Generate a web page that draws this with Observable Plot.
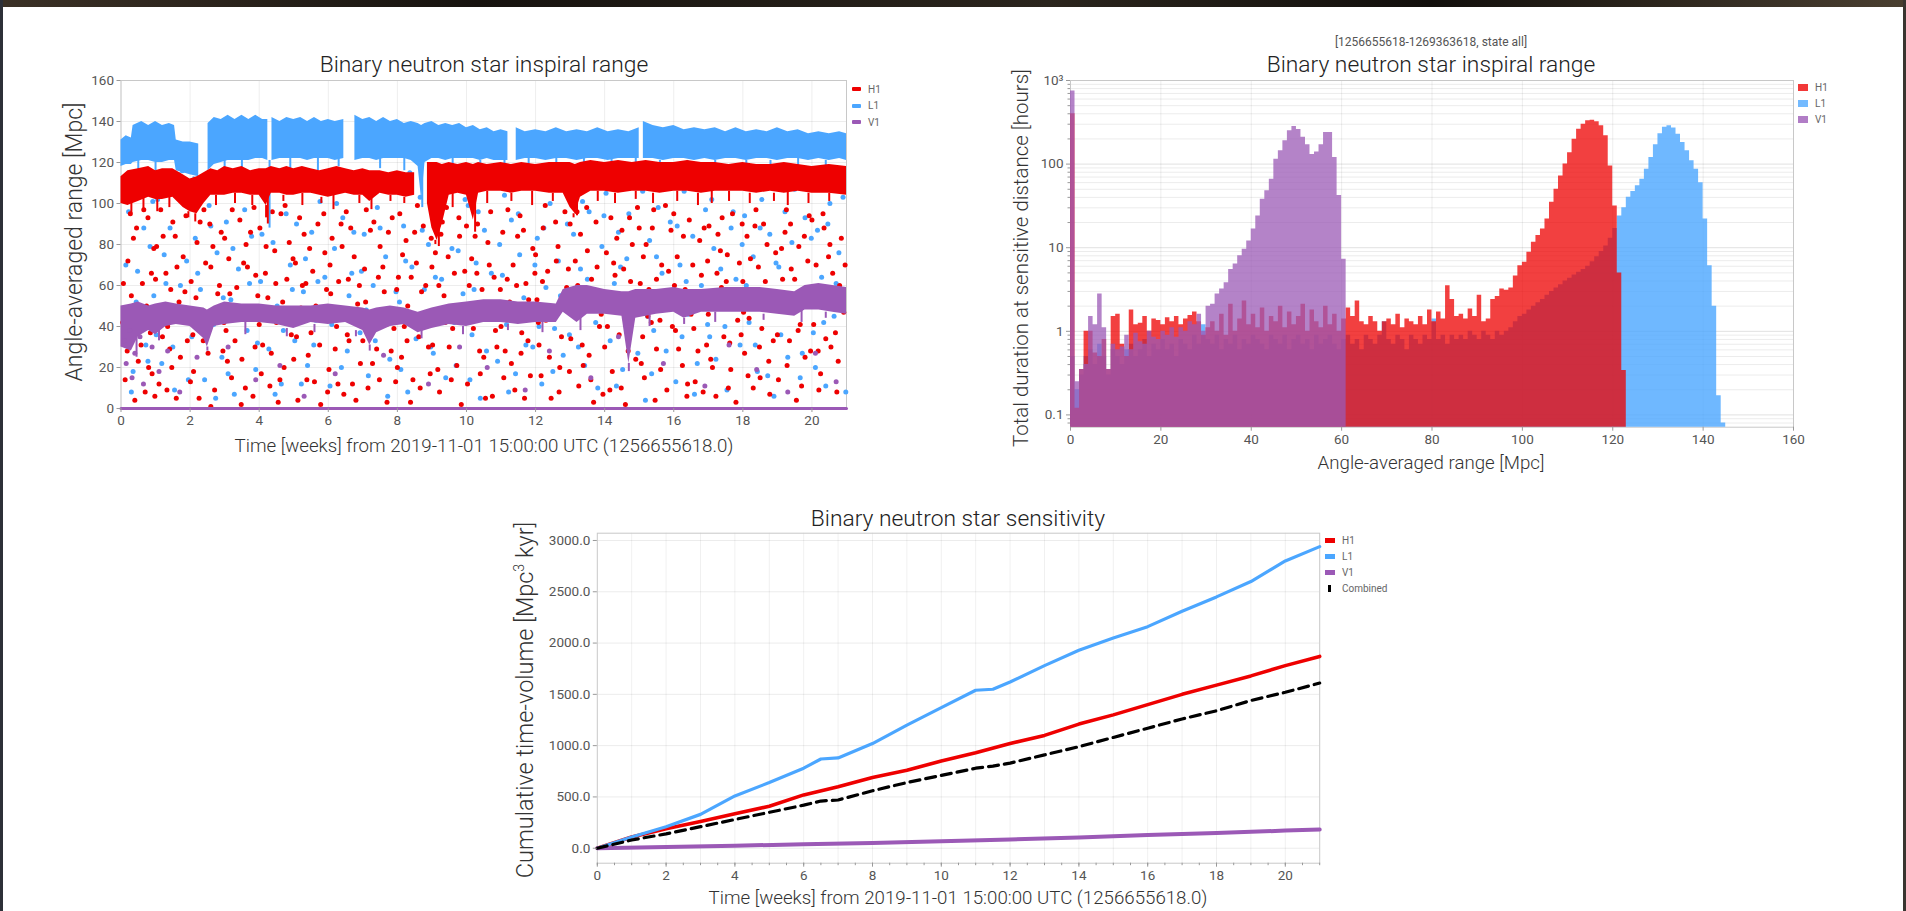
<!DOCTYPE html>
<html>
<head>
<meta charset="utf-8">
<script src="https://cdn.jsdelivr.net/npm/d3@7"></script>
<script src="https://cdn.jsdelivr.net/npm/@observablehq/plot@0.6"></script>
<style>
  html, body { margin: 0; padding: 0; background: #fff; }
  body { width: 1906px; height: 911px; position: relative; overflow: hidden;
         font-family: Roboto, "Open Sans", sans-serif; color: #333; }
  .abs { position: absolute; }
  .title { font-size: 22.8px; font-weight: 300; color: #222; white-space: nowrap; transform: translate(-50%, -50%); }
  .sub { font-size: 12px; color: #555; white-space: nowrap; transform: translate(-50%, -50%); }
  .xlabel { font-size: 18.7px; font-weight: 300; color: #333; white-space: nowrap; transform: translate(-50%, -50%); }
  .ylabel { font-weight: 300; color: #333; white-space: nowrap; transform: translate(-50%, -50%) rotate(-90deg); }
  .ylabel sup { font-size: 0.6em; }
  .leg { font-size: 10px; color: #666; white-space: nowrap; display: flex; align-items: center; height: 14px; transform: translateY(-50%); }
  .leg i { display: inline-block; margin-right: 7px; }
  .plotbox svg { display: block; overflow: visible; }
</style>
</head>
<body>
<div class="abs" style="left:0;top:0;width:1906px;height:7px;background:linear-gradient(90deg,#3b3126,#17130f 25%,#2b251d 55%,#120f0c 75%,#4a3f30)"></div>
<div class="abs" style="left:0;top:0;width:3px;height:911px;background:#2d3038"></div>
<div class="abs" style="left:1903px;top:0;width:3px;height:911px;background:#3a3530"></div>

<div id="c1" class="abs plotbox" style="left:40px;top:40px;width:830px;"></div>
<div id="c2" class="abs plotbox" style="left:1000px;top:40px;width:820px;"></div>
<div id="c3" class="abs plotbox" style="left:540px;top:500px;width:800px;"></div>

<div class="abs title" style="left:484px;top:64px;">Binary neutron star inspiral range</div>
<div class="abs xlabel" style="left:484px;top:446px;">Time [weeks] from 2019-11-01 15:00:00 UTC (1256655618.0)</div>
<div class="abs ylabel" style="left:74px;top:242px;font-size:23px;">Angle-averaged range [Mpc]</div>

<div class="abs sub" style="left:1431px;top:42px;">[1256655618-1269363618, state all]</div>
<div class="abs title" style="left:1431px;top:64px;">Binary neutron star inspiral range</div>
<div class="abs xlabel" style="left:1431px;top:463px;">Angle-averaged range [Mpc]</div>
<div class="abs ylabel" style="left:1021px;top:258px;font-size:20.5px;">Total duration at sensitive distance [hours]</div>

<div class="abs title" style="left:958px;top:518px;">Binary neutron star sensitivity</div>
<div class="abs xlabel" style="left:958px;top:898px;">Time [weeks] from 2019-11-01 15:00:00 UTC (1256655618.0)</div>
<div class="abs ylabel" style="left:525px;top:700px;font-size:23.5px;">Cumulative time-volume [Mpc<sup>3</sup> kyr]</div>

<div id="leg1" class="abs" style="left:852px;top:89px;"></div>
<div id="leg2" class="abs" style="left:1798px;top:87px;"></div>
<div id="leg3" class="abs" style="left:1325px;top:540px;"></div>

<script>
// Detectors and their colours
const detectors = ["H1", "L1", "V1"];
const H1C = "#ee0000", L1C = "#4ba6ff", V1C = "#9b59b6";
const FONT = "Roboto, 'Open Sans', sans-serif";

// ---------- Inspiral range over time ----------
const weekTicks = [0, 2, 4, 6, 8, 10, 12, 14, 16, 18, 20];
const rangeTicks = [0, 20, 40, 60, 80, 100, 120, 140, 160];

// Locked-state range envelopes: [week, low, high] (NaN = no data)
const l1Band = [
  [0,118,131],[0.15,119,133],[0.3,119,132],[0.35,120,138],[0.6,121,140],[0.8,121,138],[1.0,120,140],[1.2,120,138],
  [1.4,121,139],[1.55,121,138],[1.6,116,131],[1.8,115,130],[2.0,114,130],[2.25,113,129],[2.27,NaN,NaN],[2.5,NaN,NaN],
  [2.52,116,139],[2.7,119,142],[2.9,120,141],[3.1,121,143],[3.3,121,141],[3.5,121,143],[3.7,121,141],[3.9,122,143],
  [4.1,122,141],[4.25,121,141],[4.27,NaN,NaN],[4.35,NaN,NaN],[4.37,121,142],[4.6,122,140],[4.8,122,142],[5.0,122,141],
  [5.2,122,142],[5.4,121,140],[5.6,122,142],[5.8,122,140],[6.0,122,141],[6.2,121,140],[6.45,122,141],[6.47,NaN,NaN],
  [6.75,NaN,NaN],[6.77,121,143],[7.0,122,141],[7.2,122,142],[7.4,121,140],[7.6,122,142],[7.8,122,140],[8.0,122,141],
  [8.2,122,139],[8.4,121,140],[8.6,118,139],[8.7,102,138],[8.8,120,139],[9.0,122,140],[9.2,122,138],[9.4,121,139],
  [9.6,122,138],[9.8,122,139],[10.0,122,137],[10.2,122,138],[10.4,121,136],[10.6,122,137],[10.8,121,135],[11.0,121,136],
  [11.2,121,135],[11.22,NaN,NaN],[11.42,NaN,NaN],[11.44,121,137],[11.7,122,135],[12.0,122,136],[12.3,121,135],
  [12.6,122,137],[12.9,122,135],[13.2,121,136],[13.5,122,135],[13.8,122,137],[14.1,121,135],[14.4,122,136],
  [14.7,122,135],[15.0,122,137],[15.02,NaN,NaN],[15.1,NaN,NaN],[15.12,122,140],[15.4,122,138],[15.7,121,137],
  [16.0,122,138],[16.3,122,136],[16.6,121,137],[16.9,122,136],[17.2,121,137],[17.5,122,135],[17.8,122,137],
  [18.1,121,135],[18.4,122,136],[18.7,122,135],[19.0,121,137],[19.3,122,135],[19.6,122,136],[19.9,121,134],
  [20.2,122,135],[20.5,121,134],[20.8,122,135],[21,121,134]
];
const h1Band = [
  [0,100,113],[0.2,99,116],[0.5,101,117],[0.8,103,118],[1.0,102,116],[1.2,102,117],[1.5,103,117],[1.8,98,114],
  [2.0,96,112],[2.2,95,113],[2.4,100,115],[2.6,104,117],[2.8,104,116],[3.0,104,118],[3.25,105,117],[3.5,105,118],
  [3.75,104,116],[4.0,104,117],[4.2,99,117],[4.35,105,118],[4.6,105,117],[4.8,104,118],[5.0,104,117],[5.25,105,118],
  [5.5,105,117],[5.75,104,116],[6.0,103,117],[6.25,104,118],[6.5,105,117],[6.75,104,116],[7.0,104,117],[7.2,101,116],
  [7.5,105,116],[7.75,104,115],[8.0,104,116],[8.25,103,115],[8.5,104,115],[8.6,NaN,NaN],[8.85,NaN,NaN],[8.87,100,120],
  [9.0,88,120],[9.15,82,120],[9.3,90,119],[9.5,104,120],[9.75,105,119],[10.0,104,120],[10.2,92,119],[10.35,105,120],
  [10.6,106,119],[11.0,106,120],[11.3,105,119],[11.6,106,120],[12.0,106,119],[12.4,105,120],[12.8,105,120],
  [13.0,98,120],[13.15,95,119],[13.3,103,120],[13.6,106,121],[14,106,120],[14.4,105,121],[14.8,106,120],[15.2,106,121],
  [15.6,105,120],[16,106,120],[16.4,106,121],[16.8,105,120],[17.2,106,120],[17.6,106,119],[18,106,120],[18.4,105,119],
  [18.8,106,119],[19.2,105,120],[19.6,106,119],[20,105,118],[20.5,105,119],[21,104,118]
];
const v1Band = [
  [0,30,50],[0.3,28,51],[0.5,35,52],[0.8,38,50],[1.0,36,51],[1.3,40,52],[1.6,41,51],[2.0,40,50],[2.4,34,49],
  [2.5,30,48],[2.7,40,50],[3.0,41,52],[3.5,42,51],[4.0,42,51],[4.5,41,50],[5.0,39,50],[5.5,42,50],[6.0,41,51],
  [6.5,42,50],[7.0,38,49],[7.2,31,48],[7.4,37,49],[7.8,40,50],[8.2,41,49],[8.6,37,47],[9.0,39,49],[9.5,41,51],
  [10.0,40,52],[10.5,42,53],[11.0,42,53],[11.5,41,52],[12.0,42,52],[12.6,42,51],[12.8,47,58],[13.2,42,60],
  [13.5,46,60],[14.0,46,58],[14.5,45,57],[14.7,22,57],[14.9,44,58],[15.5,46,58],[16.0,47,59],[16.3,44,58],
  [16.8,47,58],[17.5,47,59],[18.0,47,59],[18.5,47,59],[19.0,46,58],[19.5,45,57],[19.8,48,60],[20.2,48,61],
  [20.6,47,60],[21,46,59]
];
// Short drops below the locked envelope: [week, lowest Mpc]
const h1Drops = [
  [0.3,95],[0.65,97],[1.05,96],[1.4,98],[1.95,93],[2.15,91],[2.75,99],[3.3,100],[3.8,99],[4.2,93],[4.25,90],[4.7,101],
  [5.25,99],[5.8,100],[6.15,97],[6.9,100],[7.25,97],[7.8,101],[8.2,100],[9.1,80],[9.2,79],[9.6,98],[10.25,86],[10.6,100],
  [11.3,101],[11.9,99],[12.5,101],[13.1,93],[13.2,94],[13.8,101],[14.3,100],[14.9,102],[15.4,100],[16.1,101],[16.7,99],
  [17.1,100],[17.6,101],[18.2,100],[18.9,101],[19.3,99],[19.9,100],[20.5,101]
];
const l1Drops = [
  [0.5,116],[1.0,115],[1.7,112],[2.1,110],[3.0,116],[3.5,117],[4.3,88],[4.9,117],[5.7,116],[6.3,118],[7.5,117],[8.2,116],
  [8.72,98],[9.6,117],[10.4,116],[11.1,117],[11.8,118],[12.6,117],[13.4,116],[14.2,118],[14.9,116],[15.6,117],[16.4,118],
  [17.2,116],[18.1,117],[18.8,118],[19.6,116],[20.4,117]
];
const v1Drops = [
  [0.45,25],[1.1,33],[2.5,28],[3.6,36],[4.8,35],[5.6,37],[6.8,35],[7.2,28],[8.7,34],[9.9,36],[11.2,38],[12.2,37],
  [13.3,38],[14.7,18],[15.3,40],[16.3,41],[17.2,42],[18.6,43],[19.7,42],[20.4,44]
];

// Unlocked / transitional samples: [week, Mpc]
const h1Points = [
  [0.12,14],[0.2,72],[0.3,55],[0.45,88],[0.5,23],[0.62,61],[0.7,8],[0.78,93],[0.85,37],[0.95,78],
  [1.05,47],[1.1,12],[1.22,84],[1.3,66],[1.41,29],[1.5,91],[1.6,5],[1.68,52],[1.8,74],[1.92,33],
  [2.03,62],[2.1,18],[2.2,81],[2.33,44],[2.4,97],[2.52,27],[2.6,69],[2.71,9],[2.8,56],[2.9,86],
  [3.04,38],[3.12,73],[3.2,15],[3.35,59],[3.44,92],[3.5,24],[3.62,80],[3.7,47],[3.82,6],[3.9,65],
  [4.02,88],[4.1,31],[4.25,54],[4.31,11],[4.45,77],[4.5,42],[4.63,95],[4.72,20],[4.8,63],[4.93,36],
  [5.05,71],[5.12,4],[5.21,49],[5.3,85],[5.42,26],[5.55,67],[5.6,13],[5.7,90],[5.83,45],[5.95,58],
  [6.02,19],[6.11,83],[6.24,40],[6.3,62],[6.45,7],[6.52,96],[6.6,33],[6.75,74],[6.85,51],[6.93,22],
  [7.05,68],[7.15,10],[7.22,87],[7.35,46],[7.4,29],[7.5,79],[7.62,57],[7.7,3],[7.85,93],[7.9,39],
  [8.03,64],[8.12,25],[8.25,82],[8.3,50],[8.45,14],[8.55,71],[8.62,35],[8.75,89],[8.82,60],[8.95,17],
  [9.05,43],[9.1,76],[9.22,8],[9.35,55],[9.42,98],[9.5,30],[9.65,66],[9.72,21],[9.8,84],[9.92,48],
  [10.03,12],[10.15,73],[10.2,39],[10.32,90],[10.45,58],[10.5,25],[10.62,81],[10.75,6],[10.8,64],[10.95,44],
  [11.05,86],[11.12,28],[11.25,52],[11.35,70],[11.4,9],[11.55,94],[11.6,37],[11.72,61],[11.85,16],[11.92,78],
  [12.04,53],[12.1,31],[12.22,88],[12.35,67],[12.45,5],[12.52,45],[12.65,79],[12.7,20],[12.85,96],[12.9,59],
  [13.02,34],[13.15,72],[13.25,11],[13.3,85],[13.45,49],[13.55,26],[13.62,63],[13.75,91],[13.85,40],[13.95,7],
  [14.05,76],[14.12,55],[14.22,18],[14.35,83],[14.42,36],[14.55,68],[14.6,2],[14.72,93],[14.85,47],[14.9,24],
  [15.03,61],[15.15,15],[15.2,80],[15.35,42],[15.42,97],[15.5,29],[15.65,70],[15.72,53],[15.8,9],[15.92,87],
  [16.05,38],[16.1,74],[16.25,21],[16.33,58],[16.45,92],[16.5,46],[16.62,13],[16.75,82],[16.8,65],[16.95,31],
  [17.02,89],[17.15,50],[17.22,6],[17.35,77],[17.45,35],[17.52,62],[17.65,19],[17.7,95],[17.85,43],[17.9,71],
  [18.05,27],[18.12,84],[18.25,57],[18.3,10],[18.45,69],[18.55,39],[18.6,90],[18.75,23],[18.82,52],[18.95,76],
  [19.03,14],[19.15,63],[19.22,86],[19.35,33],[19.42,48],[19.55,4],[19.62,79],[19.75,58],[19.8,25],[19.92,94],
  [20.05,41],[20.12,70],[20.25,17],[20.35,88],[20.42,55],[20.55,30],[20.6,66],[20.72,8],[20.85,83],[20.92,47],
  [0.05,42],[0.27,95],[0.4,4],[0.58,31],[0.74,50],[0.9,17],[1.0,63],[1.15,97],[1.35,40],[1.47,20],[1.62,69],[1.85,57],
  [2.08,36],[2.26,5],[2.45,71],[2.57,90],[2.75,47],[2.95,28],[3.0,83],[3.15,56],[3.3,33],[3.48,2],[3.66,69],[3.85,98],
  [4.06,17],[4.18,66],[4.38,96],[4.55,3],[4.68,52],[4.87,81],[5.0,24],[5.17,93],[5.35,61],[5.5,37],[5.78,2],[5.9,76],
  [6.07,56],[6.2,29],[6.37,90],[6.58,63],[6.7,12],[6.97,44],[7.0,33],[7.1,97],[7.28,22],[7.45,64],[7.68,41],[7.95,13],
  [8.07,95],[8.2,40],[8.38,3],[8.5,86],[8.7,57],[8.9,30],[9.0,69],[9.17,19],[9.3,91],[9.47,74],[9.6,39],[9.85,2],
  [10.08,60],[10.25,84],[10.4,17],[10.58,50],[10.7,96],[10.88,30],[11.0,40],[11.18,63],[11.3,22],[11.48,84],[11.68,5],[11.8,53],
  [12.0,75],[12.16,16],[12.3,43],[12.58,91],[12.75,35],[12.95,68],[13.08,57],[13.2,96],[13.38,21],[13.5,77],[13.68,3],[13.9,46],
  [14.0,30],[14.18,93],[14.3,65],[14.48,10],[14.65,51],[14.8,80],[15.0,88],[15.1,35],[15.28,58],[15.46,4],[15.6,43],[15.85,67],
  [16.0,95],[16.18,51],[16.38,6],[16.55,70],[16.7,28],[16.88,88],[17.07,24],[17.25,66],[17.4,93],[17.58,10],[17.75,55],[17.95,36],
  [18.0,62],[18.18,44],[18.38,97],[18.5,15],[18.7,80],[18.88,33],[19.08,51],[19.26,97],[19.4,68],[19.6,38],[19.7,11],[19.88,72],
  [20.0,92],[20.18,28],[20.3,53],[20.48,74],[20.68,37],[20.8,60],
  [0.07,61],[0.18,28],[0.36,83],[0.52,45],[0.66,97],[0.8,20],[0.88,66],[0.98,6],
  [1.03,79],[1.2,35],[1.33,9],[1.44,58],[1.57,84],[1.72,25],[1.88,94],[1.97,46],
  [2.01,13],[2.17,54],[2.29,91],[2.38,33],[2.6,1],[2.66,79],[2.85,60],[2.98,42],
  [3.08,23],[3.22,97],[3.38,49],[3.55,71],[3.6,10],[3.75,86],[3.88,30],[3.96,55],
  [4.0,41],[4.2,79],[4.35,27],[4.48,61],[4.6,14],[4.75,99],[4.84,47],[4.98,73],
  [5.08,35],[5.25,60],[5.38,14],[5.46,78],[5.64,50],[5.75,31],[5.87,95],[5.98,8],
  [6.05,70],[6.15,47],[6.28,12],[6.4,79],[6.55,36],[6.65,88],[6.8,4],[6.9,60],
  [7.08,52],[7.2,40],[7.32,91],[7.48,14],[7.58,69],[7.74,86],[7.82,28],[7.98,58],
  [8.0,20],[8.15,75],[8.28,33],[8.4,64],[8.58,99],[8.66,10],[8.8,46],[8.98,83],
  [9.02,31],[9.2,60],[9.26,85],[9.38,42],[9.56,14],[9.68,50],[9.78,93],[9.95,67],
  [10.0,89],[10.1,48],[10.3,66],[10.38,28],[10.55,5],[10.66,70],[10.84,38],[10.98,58],
  [11.08,15],[11.2,97],[11.28,44],[11.45,60],[11.58,27],[11.65,87],[11.78,33],[11.98,66],
  [12.08,42],[12.2,62],[12.28,99],[12.4,25],[12.6,72],[12.68,8],[12.8,50],[12.98,18],
  [13.0,90],[13.1,47],[13.22,60],[13.35,31],[13.48,98],[13.6,14],[13.78,69],[13.88,56],
  [14.08,40],[14.15,9],[14.26,71],[14.38,49],[14.5,87],[14.68,28],[14.75,62],[14.95,98],
  [15.06,22],[15.12,74],[15.25,45],[15.38,88],[15.5,63],[15.62,19],[15.76,99],[15.96,40],
  [16.02,60],[16.14,29],[16.28,84],[16.4,12],[16.58,39],[16.66,56],[16.85,8],[16.98,72],
  [17.0,46],[17.12,20],[17.28,85],[17.38,59],[17.55,75],[17.62,32],[17.8,3],[17.98,90],
  [18.02,47],[18.15,16],[18.22,73],[18.35,89],[18.48,30],[18.65,62],[18.78,7],[18.92,55],
  [19.0,36],[19.12,78],[19.28,21],[19.38,90],[19.5,63],[19.66,41],[19.78,84],[19.96,28],
  [20.08,58],[20.2,9],[20.32,95],[20.4,34],[20.52,80],[20.62,50],[20.76,23],[20.96,70]
];
const l1Points = [
  [0.08,44],[0.22,96],[0.35,18],[0.48,67],[0.6,110],[0.72,31],[0.84,79],[0.95,55],
  [1.06,102],[1.18,22],[1.3,61],[1.42,88],[1.55,9],[1.66,47],[1.78,116],[1.9,72],
  [2.05,35],[2.15,83],[2.3,58],[2.42,14],[2.55,99],[2.68,41],[2.78,76],[2.92,25],
  [3.05,91],[3.18,53],[3.28,7],[3.4,68],[3.52,112],[3.65,38],[3.78,84],[3.9,19],
  [4.04,62],[4.15,104],[4.28,29],[4.4,81],[4.52,50],[4.64,12],[4.78,95],[4.9,70],
  [5.03,33],[5.15,115],[5.28,57],[5.4,21],[5.52,86],[5.64,43],[5.76,101],[5.9,64],
  [6.05,11],[6.18,78],[6.3,49],[6.42,93],[6.55,28],[6.68,66],[6.8,107],[6.92,37],
  [7.04,85],[7.16,16],[7.3,60],[7.42,98],[7.55,45],[7.66,74],[7.78,24],[7.92,113],
  [8.06,52],[8.18,89],[8.3,8],[8.42,69],[8.54,34],[8.66,103],[8.78,58],[8.9,80],
  [9.04,27],[9.16,94],[9.28,63],[9.4,15],[9.52,108],[9.65,42],[9.76,77],[9.9,56],
  [10.05,99],[10.16,36],[10.28,71],[10.4,5],[10.52,87],[10.65,48],[10.78,117],[10.9,23],
  [11.04,65],[11.16,41],[11.3,92],[11.42,17],[11.54,75],[11.66,54],[11.8,109],[11.92,30],
  [12.05,83],[12.18,12],[12.3,59],[12.42,100],[12.55,39],[12.66,72],[12.8,26],[12.92,90],
  [13.06,47],[13.18,114],[13.3,68],[13.42,21],[13.55,96],[13.68,53],[13.8,10],[13.92,79],
  [14.04,105],[14.16,33],[14.28,61],[14.4,86],[14.52,19],[14.64,73],[14.78,44],[14.9,111],
  [15.05,57],[15.18,4],[15.3,82],[15.42,38],[15.55,98],[15.66,66],[15.78,28],[15.9,91],
  [16.06,13],[16.18,70],[16.3,106],[16.42,46],[16.55,84],[16.68,22],[16.8,60],[16.92,97],
  [17.04,35],[17.16,78],[17.3,116],[17.42,52],[17.54,9],[17.66,88],[17.8,63],[17.92,31],
  [18.05,94],[18.18,42],[18.3,74],[18.42,18],[18.55,102],[18.66,57],[18.78,85],[18.9,6],
  [19.04,69],[19.16,110],[19.3,25],[19.42,81],[19.54,49],[19.66,15],[19.8,93],[19.92,58],
  [20.04,37],[20.16,87],[20.28,64],[20.4,11],[20.52,100],[20.64,45],[20.78,76],[20.9,103],
  [0.14,70],[0.3,8],[0.44,52],[0.66,88],[0.78,23],[0.92,101],[1.02,36],[1.25,75],[1.38,113],[1.5,30],[1.72,60],[1.95,14],
  [2.1,105],[2.22,66],[2.36,40],[2.6,89],[2.74,5],[2.96,54],[3.1,17],[3.24,78],[3.46,44],[3.58,97],[3.72,61],[3.95,32],
  [4.08,85],[4.22,45],[4.46,7],[4.58,116],[4.7,38],[4.96,58],[5.08,90],[5.22,12],[5.34,73],[5.58,31],[5.7,62],[5.95,110],
  [6.1,41],[6.24,100],[6.38,20],[6.6,55],[6.74,86],[6.96,67],[7.1,48],[7.22,110],[7.36,33],[7.5,88],[7.72,6],[7.96,57],
  [8.1,19],[8.24,72],[8.36,115],[8.48,43],[8.72,87],[8.96,30],[9.1,64],[9.22,42],[9.34,99],[9.58,78],[9.7,21],[9.96,102],
  [10.1,14],[10.22,58],[10.34,96],[10.58,28],[10.72,66],[10.96,80],[11.1,104],[11.22,8],[11.36,47],[11.5,95],[11.72,31],[11.98,70],
  [12.1,40],[12.24,88],[12.36,113],[12.5,18],[12.72,55],[12.98,36],[13.1,85],[13.24,30],[13.36,101],[13.5,63],[13.74,42],[13.98,94],
  [14.1,52],[14.22,118],[14.34,11],[14.46,69],[14.7,95],[14.96,27],[15.1,106],[15.24,45],[15.36,17],[15.5,74],[15.72,113],[15.96,50],
  [16.1,89],[16.24,35],[16.36,62],[16.6,7],[16.74,112],[16.98,41],[17.1,102],[17.22,24],[17.36,68],[17.48,40],[17.72,96],[17.98,80],
  [18.1,60],[18.24,115],[18.36,31],[18.5,88],[18.72,16],[18.96,71],[19.1,36],[19.22,96],[19.36,55],[19.5,107],[19.72,27],[19.98,83],
  [20.1,20],[20.22,111],[20.34,42],[20.46,90],[20.7,61],[20.98,8]
];
const v1Points = [
  [0.1,33],[0.15,22],[0.25,38],[0.32,15],[0.4,27],[0.55,35],[0.65,12],[0.9,30],[1.1,18],[1.35,28],[1.7,8],
  [2.2,25],[3.1,30],[3.9,14],[4.6,21],[5.3,6],[6.2,17],[7.6,26],[8.9,12],[9.8,30],[10.6,20],[11.7,9],
  [12.4,28],[13.6,15],[14.4,35],[15.7,22],[16.9,11],[17.6,31],[18.4,19],[19.3,8],[20.1,27],[20.7,13]
];
// V1 reports zero range while out of lock
const v1Offline = [[0,0],[21,0]];

// ---------- Range histogram (1 Mpc bins, hours per bin) ----------
const mpcTicks = [0, 20, 40, 60, 80, 100, 120, 140, 160];
const hourTicks = [0.1, 1, 10, 100, 1000];
const hourTickLabels = ["0.1", "1", "10", "100", "10³"];
const hourMinorTicks = [0.08,0.09,0.2,0.3,0.4,0.5,0.6,0.7,0.8,0.9,2,3,4,5,6,7,8,9,20,30,40,50,60,70,80,90,200,300,400,500,600,700,800,900];
const histFloor = 0.01;

const h1Hours = [
  400,0.12,0.35,1.0,1.0,0.55,0.5,0.8,0.35,1.5,1.6,0.7,0.5,1.8,1.2,1.25,1.5,1.0,1.4,1.35,
  1.2,1.45,1.3,1.5,1.2,1.4,1.55,1.7,1.3,0.9,1.1,1.3,1.0,1.6,0.9,2.1,1.0,1.4,2.3,1.2,
  1.6,1.1,1.9,1.0,1.5,1.3,2.0,1.1,1.7,1.2,1.5,2.1,1.0,1.8,1.3,1.1,2.0,1.2,1.6,1.0,
  1.4,1.9,1.5,2.3,1.3,1.2,1.5,1.3,1.0,1.3,1.4,1.2,1.6,1.1,1.4,1.3,1.2,1.5,1.2,1.8,
  1.3,1.7,1.4,3.5,2.4,1.5,1.6,1.4,1.85,1.5,2.7,1.3,1.4,2.4,2.6,3.2,3.1,3.3,4.6,6.1,
  6.7,8.8,11.6,14,16.7,22,35,50,72,100,137,198,262,300,330,335,320,287,218,95,
  31.6,5.0,0.34
];
const l1Hours = [
  0.5,0.2,0.3,0.5,0.6,0.4,0.7,0.5,0.3,0.6,0.5,0.4,0.6,0.7,0.5,0.6,0.8,0.5,0.7,0.6,
  0.8,0.6,0.7,0.5,0.8,0.7,0.6,0.9,0.7,1.2,0.8,0.7,0.9,0.6,0.8,0.7,0.9,0.6,0.8,0.7,
  0.9,0.8,0.7,0.6,0.9,0.8,0.7,0.9,0.6,0.8,0.9,0.7,0.8,0.6,0.9,0.7,0.8,0.9,0.7,0.6,
  0.8,0.9,0.7,0.8,0.6,0.9,0.8,0.7,0.9,1.3,0.8,0.7,0.9,0.8,0.6,0.9,0.8,0.7,0.9,0.8,
  1.4,0.8,0.9,0.7,0.9,0.8,0.9,0.8,1.0,0.9,0.8,1.0,0.9,0.8,1.0,0.9,1.0,1.1,1.3,1.5,
  1.6,1.8,2.0,2.2,2.4,2.7,3.0,3.3,3.6,4.0,4.3,4.7,5.1,5.5,6.0,6.8,7.8,9,10.5,13,
  17,24,30,40,47,55,66,87,120,170,230,275,287,270,228,181,144,110,87,60,
  22,6.1,2.0,0.17,0.08
];
const v1Hours = [
  750,0.25,0.35,0.4,1.5,1.2,2.8,1.1,0.35,0.7,0.6,0.65,0.9,0.6,0.95,0.75,0.7,1.0,0.85,0.8,
  1.0,0.9,1.1,0.85,1.1,1.0,1.3,1.2,1.6,1.0,2.0,2.1,2.8,3.2,3.8,5.5,6.4,8.0,9.6,12,
  16.7,24,38,48,66,114,144,190,250,281,260,210,170,130,140,170,238,238,120,42,7.3
];

// ---------- Cumulative time-volume: [week, Mpc^3 kyr] ----------
const volumeTicks = [0, 500, 1000, 1500, 2000, 2500, 3000];
const h1Volume = [[0,0],[1,110],[2,190],[3,260],[4,335],[5,410],[6,520],[7,600],[8,690],[9,760],[10,850],
  [11,930],[12,1020],[13,1100],[14,1210],[15,1300],[16,1400],[17,1500],[18,1590],[19,1680],[20,1780],[21,1870]];
const l1Volume = [[0,0],[1,110],[2,210],[3,330],[4,510],[5,640],[6,780],[6.5,870],[7,880],[8,1020],[9,1200],
  [10,1370],[11,1540],[11.5,1550],[12,1620],[13,1780],[14,1930],[15,2050],[16,2160],[17,2310],[18,2450],
  [19,2600],[20,2800],[21,2940]];
const v1Volume = [[0,0],[2,12],[4,25],[6,38],[8,52],[10,68],[12,85],[14,105],[16,128],[18,148],[20,172],[21,183]];
const combinedVolume = [[0,0],[1,80],[2,140],[3,210],[4,280],[5,350],[6,420],[6.5,460],[7,470],[8,560],[9,640],
  [10,710],[11,780],[11.5,800],[12,830],[13,910],[14,990],[15,1080],[16,1170],[17,1260],[18,1340],[19,1440],
  [20,1520],[21,1610]];

// ---------- drawing ----------
const baseStyle = {fontFamily: FONT, fontSize: "13.5px", color: "#555", background: "transparent", overflow: "visible"};
const X = d => d[0], Y = d => d[1];
const gridStyle = {stroke: "#000", strokeOpacity: 0.07};

// Inspiral range time series
function band(rows, fill, drops) {
  return [
    Plot.areaY(rows, {x: d => d[0], y1: d => d[1], y2: d => d[2], fill}),
    Plot.ruleX(drops, {x: d => d[0], y1: d => d[1],
      y2: d => rows.find(r => r[0] >= d[0] && !isNaN(r[1]))[1], stroke: fill, strokeWidth: 2})
  ];
}
document.getElementById("c1").append(Plot.plot({
  width: 830, height: 420,
  marginLeft: 80.5, marginRight: 24, marginTop: 40, marginBottom: 52,
  style: baseStyle,
  x: {domain: [0, 21]},
  y: {domain: [0, 160]},
  marks: [
    Plot.gridX(weekTicks, gridStyle),
    Plot.gridY(rangeTicks, gridStyle),
    Plot.frame({stroke: "#c8c8c8"}),
    Plot.dot(l1Points, {x: X, y: Y, r: 2.5, fill: L1C}),
    Plot.dot(h1Points, {x: X, y: Y, r: 2.5, fill: H1C}),
    ...band(l1Band, L1C, l1Drops),
    ...band(h1Band, H1C, h1Drops),
    ...band(v1Band, V1C, v1Drops),
    Plot.dot(v1Points, {x: X, y: Y, r: 2.5, fill: V1C}),
    Plot.line(v1Offline, {x: X, y: Y, stroke: V1C, strokeWidth: 3}),
    Plot.axisX(weekTicks, {anchor: "bottom", tickSize: 4, tickPadding: 3, stroke: "#999", label: null}),
    Plot.axisY(rangeTicks, {anchor: "left", tickSize: 4, tickPadding: 3, stroke: "#999", label: null})
  ]
}));

// Histogram of time spent at each range
function stepRows(values) {
  const rows = values.map((v, i) => ({x: i, y: v}));
  rows.push({x: values.length, y: values[values.length - 1]});
  return rows;
}
document.getElementById("c2").append(Plot.plot({
  width: 820, height: 420,
  marginLeft: 70, marginRight: 27, marginTop: 40, marginBottom: 33.3,
  style: baseStyle,
  x: {domain: [0, 160]},
  y: {type: "log", domain: [0.0713, 1000]},
  marks: [
    Plot.gridY(hourMinorTicks, {stroke: "#000", strokeOpacity: 0.08}),
    Plot.gridY(hourTicks, {stroke: "#000", strokeOpacity: 0.12}),
    Plot.gridX(mpcTicks, gridStyle),
    Plot.frame({stroke: "#c8c8c8"}),
    Plot.areaY(stepRows(l1Hours), {x: "x", y1: histFloor, y2: "y", curve: "step-after", fill: L1C, fillOpacity: 0.8, clip: true}),
    Plot.areaY(stepRows(h1Hours), {x: "x", y1: histFloor, y2: "y", curve: "step-after", fill: H1C, fillOpacity: 0.75, clip: true}),
    Plot.areaY(stepRows(v1Hours), {x: "x", y1: histFloor, y2: "y", curve: "step-after", fill: V1C, fillOpacity: 0.75, clip: true}),
    Plot.axisX(mpcTicks, {anchor: "bottom", tickSize: 4, tickPadding: 3, stroke: "#999", label: null}),
    Plot.axisY(hourTicks, {anchor: "left", tickSize: 4, tickPadding: 3, stroke: "#999", label: null,
      tickFormat: d => hourTickLabels[hourTicks.indexOf(d)]}),
    Plot.axisY(hourMinorTicks.filter(d => d > 0.0713), {anchor: "left", tickSize: 2.5, stroke: "#999", text: null, label: null})
  ]
}));

// Cumulative sensitive time-volume
document.getElementById("c3").append(Plot.plot({
  width: 800, height: 400,
  marginLeft: 56.8, marginRight: 20.8, marginTop: 32.7, marginBottom: 37.3,
  style: baseStyle,
  x: {domain: [0, 21]},
  y: {domain: [-146, 3071]},
  marks: [
    Plot.gridX(d3.range(1, 21, 1), {stroke: "#000", strokeOpacity: 0.06}),
    Plot.gridY(volumeTicks, {stroke: "#000", strokeOpacity: 0.08}),
    Plot.frame({stroke: "#c8c8c8"}),
    Plot.line(h1Volume, {x: X, y: Y, stroke: H1C, strokeWidth: 3.6}),
    Plot.line(l1Volume, {x: X, y: Y, stroke: L1C, strokeWidth: 3.2}),
    Plot.line(v1Volume, {x: X, y: Y, stroke: V1C, strokeWidth: 4}),
    Plot.line(combinedVolume, {x: X, y: Y, stroke: "#000", strokeWidth: 3.2, strokeDasharray: "10,6"}),
    Plot.axisX(weekTicks, {anchor: "bottom", tickSize: 4, tickPadding: 3, stroke: "#999", label: null}),
    Plot.axisX(d3.range(0, 21.01, 0.5), {anchor: "bottom", tickSize: 2.5, stroke: "#999", text: null, label: null}),
    Plot.axisY(volumeTicks, {anchor: "left", tickSize: 4, tickPadding: 3, stroke: "#999", label: null,
      tickFormat: d => d.toFixed(1)})
  ]
}));

// Legends
function legend(id, items, gap) {
  const box = document.getElementById(id);
  items.forEach(([name, swatch], i) => {
    const row = document.createElement("div");
    row.className = "leg abs";
    row.style.left = "0px";
    row.style.top = (i * gap) + "px";
    row.innerHTML = swatch + name;
    box.append(row);
  });
}
const dash = c => `<i style="width:9px;height:4px;background:${c};border-radius:1px"></i>`;
const square = (c, o) => `<i style="width:10px;height:7px;background:${c};opacity:${o}"></i>`;
legend("leg1", detectors.map((d, i) => [d, dash([H1C, L1C, V1C][i])]), 16.5);
legend("leg2", detectors.map((d, i) => [d, square([H1C, L1C, V1C][i], 0.78)]), 16);
legend("leg3", [...detectors, "Combined"].map((d, i) => [d,
  i < 3 ? `<i style="width:10px;height:5px;background:${[H1C, L1C, V1C][i]}"></i>`
        : `<i style="width:3px;height:7px;background:#000;margin-left:3px;margin-right:11px"></i>`]), 16);
</script>
</body>
</html>
